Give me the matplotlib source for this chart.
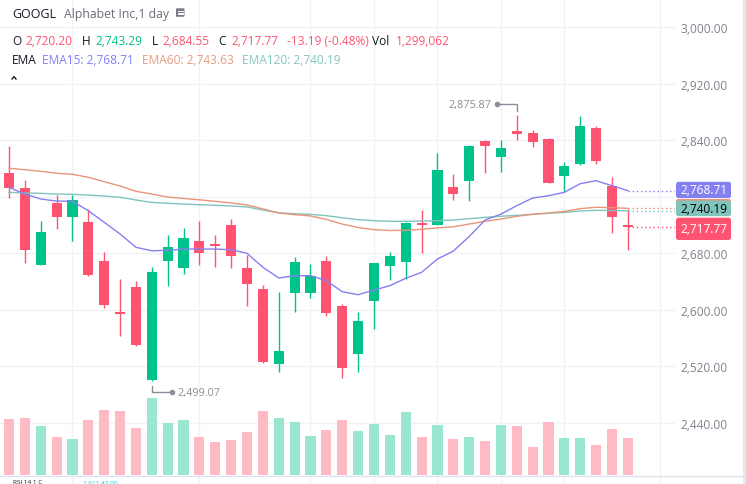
import matplotlib
matplotlib.use('Agg')
import matplotlib.pyplot as plt
import matplotlib.transforms as mtransforms
from matplotlib.patches import FancyBboxPatch, Rectangle

plt.rcParams['font.family'] = ['Open Sans', 'DejaVu Sans']

# ---------------- data ----------------
symbol = "GOOGL"
description = "Alphabet Inc,1 day"

opens = [2794.0, 2772.8, 2663.5, 2751.2, 2731.4, 2724.3, 2669.1, 2597.3, 2632.3, 2500.5,
         2669.5, 2659.6, 2697.5, 2693.6, 2720.1, 2659.2, 2629.5, 2523.6, 2624.2, 2624.2,
         2669.1, 2605.3, 2537.9, 2612.9, 2662.5, 2668.1, 2722.5, 2720.5, 2773.9, 2782.8,
         2839.4, 2816.8, 2853.1, 2850.3, 2841.4, 2789.9, 2806.9, 2857.5, 2775.3, 2720.20]
highs = [2831.5, 2784.2, 2725.7, 2762.9, 2762.9, 2742.8, 2681.4, 2643.6, 2640.8, 2660.6,
         2705.9, 2715.8, 2725.7, 2705.9, 2728.5, 2677.6, 2635.1, 2625.2, 2674.8, 2664.9,
         2676.2, 2607.8, 2596.9, 2666.3, 2681.8, 2724.3, 2741.7, 2822.0, 2792.3, 2833.7,
         2840.8, 2840.4, 2875.87, 2854.6, 2842.8, 2809.2, 2874.4, 2860.5, 2788.1, 2743.29]
lows = [2758.7, 2666.3, 2663.0, 2714.4, 2697.9, 2647.7, 2602.9, 2563.4, 2549.2, 2499.07,
        2634.1, 2651.1, 2663.9, 2661.0, 2659.6, 2605.8, 2525.1, 2512.3, 2597.3, 2617.1,
        2591.6, 2503.9, 2512.3, 2573.3, 2642.6, 2644.1, 2680.8, 2720.0, 2755.5, 2754.5,
        2793.7, 2795.5, 2840.8, 2830.9, 2779.5, 2766.8, 2805.5, 2806.9, 2708.8, 2684.55]
closes = [2771.8, 2685.1, 2710.2, 2731.4, 2755.5, 2649.2, 2607.3, 2594.5, 2550.6, 2653.6,
          2688.9, 2701.7, 2680.8, 2690.8, 2676.6, 2636.9, 2526.6, 2541.7, 2667.7, 2647.8,
          2595.9, 2518.0, 2584.2, 2666.3, 2676.2, 2722.9, 2720.1, 2797.9, 2764.3, 2831.9,
          2832.3, 2829.1, 2849.4, 2838.0, 2780.0, 2803.6, 2860.3, 2811.2, 2730.96, 2717.77]
volumes = [1966000, 2001000, 1720000, 1334000, 1264000, 1931000, 2282000, 2247000, 1650000, 2703000,
           1826000, 1931000, 1334000, 1159000, 1229000, 1510000, 2247000, 2001000, 1861000, 1369000,
           1580000, 1931000, 1545000, 1791000, 1404000, 2212000, 1334000, 1756000, 1264000, 1334000,
           1194000, 1756000, 1720000, 983000, 1861000, 1299000, 1299000, 1053000, 1615000, 1299062]
ema15 = [2773.4, 2763.9, 2756.9, 2754.0, 2753.6, 2740.3, 2723.9, 2707.3, 2688.5, 2683.6,
         2684.2, 2686.0, 2686.0, 2686.0, 2685.0, 2680.0, 2660.2, 2645.0, 2648.3, 2648.3,
         2641.2, 2625.6, 2621.4, 2628.0, 2634.1, 2644.6, 2653.1, 2671.9, 2683.2, 2703.8,
         2727.1, 2735.5, 2747.4, 2758.3, 2761.5, 2766.4, 2778.6, 2782.8, 2775.7, 2768.71]
ema60 = [2800.4, 2798.3, 2796.1, 2793.3, 2791.9, 2787.6, 2781.4, 2775.3, 2767.8, 2763.9,
         2759.7, 2757.7, 2755.7, 2753.6, 2751.2, 2748.4, 2742.8, 2737.1, 2734.7, 2732.9,
         2728.0, 2721.4, 2716.5, 2713.5, 2712.3, 2712.5, 2714.0, 2716.0, 2717.5, 2721.4,
         2725.3, 2728.5, 2732.4, 2735.2, 2737.1, 2739.4, 2743.2, 2745.2, 2744.6, 2743.63]
ema120 = [2766.4, 2765.3, 2764.9, 2763.9, 2763.5, 2762.5, 2761.1, 2759.3, 2755.5, 2752.0,
          2750.8, 2749.8, 2748.8, 2748.0, 2747.0, 2745.6, 2741.3, 2737.5, 2736.0, 2735.2,
          2733.3, 2730.4, 2727.6, 2726.2, 2725.3, 2725.3, 2725.7, 2726.2, 2727.1, 2729.0,
          2730.9, 2732.4, 2733.8, 2735.2, 2736.6, 2738.0, 2739.9, 2740.9, 2740.5, 2740.19]
price_ticks = [2440, 2520, 2600, 2680, 2840, 2920, 3000]
grid_levels = [2440, 2520, 2600, 2680, 2760, 2840, 2920, 3000]
time_grid = [4, 12, 19, 23, 27, 31, 35, 41]
lower_pane_legend = "RSI 14 1 C"
lower_pane_value = "2,611.47 00"

# ---------------- style ----------------
UP = '#00C28A'
DOWN = '#FF5371'
UP_VOL = '#99E7D0'
DOWN_VOL = '#FFBAC6'
C15 = '#8580F0'
C60 = '#E8957B'
C120 = '#80C4BE'
GRID = '#F0F2F6'
TXT = '#131722'
AXTXT = '#80838E'
FS = 8.6

W, H = 746, 485
fig = plt.figure(figsize=(W / 100, H / 100), dpi=100)
ax = fig.add_axes([0, 9 / H, 675 / W, 476 / H])
ax.set_xlim(-0.567, 41.97)
ax.set_ylim(2366.1, 3040.07)
for s in ax.spines.values():
    s.set_visible(False)

n = len(closes)
xs = list(range(n))

# grid
for lv in grid_levels:
    ax.axhline(lv, color=GRID, lw=1.0, zorder=0)
vtrans = mtransforms.blended_transform_factory(ax.transData, ax.transAxes)
ax.vlines(time_grid, -0.02, 1, transform=vtrans, color=GRID, lw=1.0, zorder=0, clip_on=False)

# volume (overlay at bottom of the pane)
vol_top = max(volumes) / 0.162
vcols = [UP_VOL if c >= o else DOWN_VOL for o, c in zip(opens, closes)]
ax.bar(xs, [v / vol_top for v in volumes], width=0.64, bottom=0, color=vcols,
       transform=vtrans, zorder=1)

# candles
ccols = [UP if c >= o else DOWN for o, c in zip(opens, closes)]
ax.vlines(xs, lows, highs, colors=ccols, lw=1.0, zorder=3)
bottoms = [min(o, c) for o, c in zip(opens, closes)]
heights = [max(abs(c - o), 1.3) for o, c in zip(opens, closes)]
ax.bar(xs, heights, bottom=bottoms, width=0.64, color=ccols, zorder=3)

# EMAs
ax.plot(xs, ema120, color=C120, lw=1.0, zorder=4)
ax.plot(xs, ema60, color=C60, lw=1.0, zorder=4)
ax.plot(xs, ema15, color=C15, lw=1.0, zorder=4)

xr = ax.get_xlim()[1]
for val, col in [(ema15[-1], C15), (ema60[-1], C60), (ema120[-1], C120), (closes[-1], DOWN)]:
    ax.hlines(val, n - 1, xr, colors=col, lw=1.0, linestyles=(0, (1, 2)), zorder=4)

# price axis
ax.yaxis.tick_right()
ax.set_yticks(price_ticks)
ax.set_yticklabels([f"{t:,.2f}" for t in price_ticks])
ax.tick_params(axis='y', length=0, pad=3.6, labelsize=FS, labelcolor=AXTXT)
ax.set_xticks([])

# ---------------- overlay ----------------
ov = fig.add_axes([0, 0, 1, 1], zorder=10)
ov.set_xlim(0, W)
ov.set_ylim(H, 0)
ov.axis('off')


def to_px(x, y):
    X, Y = ax.transData.transform((x, y))
    return X, H - Y


# pane borders
ov.plot([0, W], [476.5, 476.5], color='#E0E3EB', lw=1.0)
ov.add_patch(Rectangle((743, 0), 3, H, color='#E6E8EE', lw=0))


# price labels boxes
def price_box(val, col, tcol, dy, hgt, text=True):
    _, yc = to_px(0, val)
    yc += dy
    ov.add_patch(FancyBboxPatch((676, yc - hgt / 2), 55, hgt,
                                boxstyle='round,pad=0,rounding_size=2.5',
                                fc=col, ec='none', zorder=5))
    if text:
        ov.text(680, yc, f"{val:,.2f}", color=tcol, fontsize=FS,
                ha='left', va='center', zorder=6)


price_box(ema15[-1], C15, 'white', -0.7, 16.3)
price_box(ema60[-1], C60, 'white', -1.4, 16, text=False)
price_box(ema120[-1], C120, 'black', -2.4, 15.6)
price_box(closes[-1], DOWN, 'white', 2.2, 22.3)

# high / low annotations
ANN = '#8B8D98'
imax = highs.index(max(highs))
hx, hy = to_px(imax, highs[imax])
ov.plot([hx, hx, hx - 20], [hy - 4, hy - 10.5, hy - 10.5], color=ANN, lw=1.0)
ov.plot([hx - 20], [hy - 10.5], 'o', color=ANN, ms=3)
ov.text(hx - 25, hy - 10.5, f"{highs[imax]:,.2f}", color=ANN, fontsize=7.8,
        ha='right', va='center')

imin = lows.index(min(lows))
lx, ly = to_px(imin, lows[imin])
ov.plot([lx, lx, lx + 20], [ly + 4.5, ly + 11, ly + 11], color=ANN, lw=1.0)
ov.plot([lx + 20], [ly + 11], 'o', color=ANN, ms=3)
ov.text(lx + 26, ly + 11, f"{lows[imin]:,.2f}", color=ANN, fontsize=7.8,
        ha='left', va='center')

# header row 1
ov.text(12, 18, symbol, color=TXT, fontsize=9.0, ha='left', va='baseline')
ov.text(64, 18, description, color='#6A6D78', fontsize=8.8, ha='left', va='baseline')
ov.add_patch(FancyBboxPatch((176, 9.3), 8.5, 8.5, boxstyle='round,pad=0,rounding_size=1',
                            fc='#787B86', ec='none'))
for yy in (11.8, 13.6, 15.4):
    ov.plot([178, 182.5], [yy, yy], color='white', lw=0.7)

# header row 2 (last bar values)
chg = closes[-1] - closes[-2]
pct = chg / closes[-2] * 100
row2 = [("O", 12, TXT), (f"{opens[-1]:,.2f}", 25, DOWN),
        ("H", 82, TXT), (f"{highs[-1]:,.2f}", 95.5, UP),
        ("L", 152, TXT), (f"{lows[-1]:,.2f}", 162, DOWN),
        ("C", 218, TXT), (f"{closes[-1]:,.2f}", 231, DOWN),
        (f"{chg:.2f} ({pct:.2f}%)", 287, DOWN),
        ("Vol", 372, TXT), (f"{volumes[-1]:,}", 396, DOWN)]
for t, x, c in row2:
    ov.text(x, 45.3, t, color=c, fontsize=FS, ha='left', va='baseline')

# header row 3 (EMA legend)
row3 = [("EMA", 12, TXT), (f"EMA15: {ema15[-1]:,.2f}", 42, '#8080F2'),
        (f"EMA60: {ema60[-1]:,.2f}", 141.5, '#E59A83'),
        (f"EMA120: {ema120[-1]:,.2f}", 241.5, '#83C4C0')]
for t, x, c in row3:
    ov.text(x, 64.3, t, color=c, fontsize=FS, ha='left', va='baseline')

# collapse caret
ov.plot([12, 14, 16], [80, 77.6, 80], color=TXT, lw=1.0)

# legend of the lower pane (small, kept inside the picture)
ov.text(13, 484.5, lower_pane_legend, color=TXT, fontsize=4.6, ha='left', va='baseline')
ov.text(83, 484.5, lower_pane_value, color='#00C8E6', fontsize=4.6, ha='left', va='baseline')

fig.savefig('out.png', dpi=100)
